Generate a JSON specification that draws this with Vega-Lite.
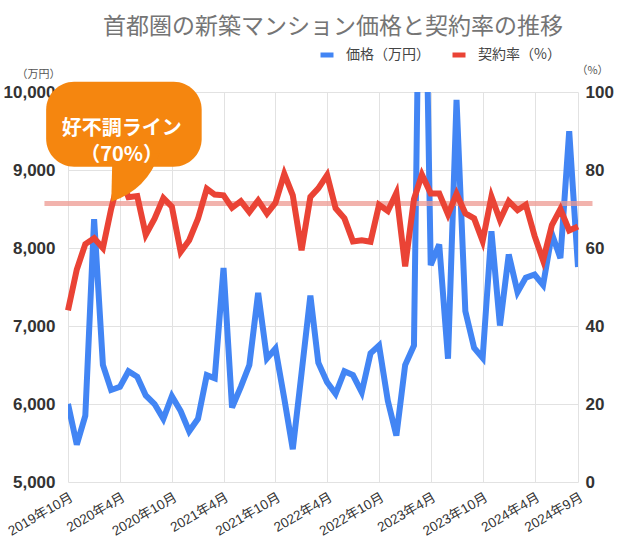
{
  "$schema": "https://vega.github.io/schema/vega-lite/v6.json",
  "width": 510,
  "height": 390,
  "autosize": {"type": "none"},
  "padding": {"left": 68, "top": 92, "right": 42, "bottom": 63},
  "background": "white",
  "config": {"view": {"stroke": null}, "font": "Liberation Sans, Noto Sans CJK JP"},
  "title": {
    "text": "首都圏の新築マンション価格と契約率の推移",
    "font": "Noto Sans CJK JP",
    "fontSize": 23,
    "fontWeight": "normal",
    "color": "#757575",
    "anchor": "middle",
    "dx": 10,
    "offset": 7
  },
  "data": {
    "values": [
      {"month": "2019-10-01", "price": 6000, "rate": 44},
      {"month": "2019-11-01", "price": 5480, "rate": 54.5},
      {"month": "2019-12-01", "price": 5850, "rate": 61},
      {"month": "2020-01-01", "price": 8370, "rate": 62.5},
      {"month": "2020-02-01", "price": 6500, "rate": 60},
      {"month": "2020-03-01", "price": 6180, "rate": 70},
      {"month": "2020-04-01", "price": 6220, "rate": 78.7},
      {"month": "2020-05-01", "price": 6420, "rate": 73},
      {"month": "2020-06-01", "price": 6350, "rate": 73.3},
      {"month": "2020-07-01", "price": 6110, "rate": 63.4},
      {"month": "2020-08-01", "price": 6000, "rate": 67.5},
      {"month": "2020-09-01", "price": 5810, "rate": 72.8},
      {"month": "2020-10-01", "price": 6100, "rate": 70.6},
      {"month": "2020-11-01", "price": 5910, "rate": 59},
      {"month": "2020-12-01", "price": 5650, "rate": 62},
      {"month": "2021-01-01", "price": 5810, "rate": 67.5},
      {"month": "2021-02-01", "price": 6370, "rate": 75.2},
      {"month": "2021-03-01", "price": 6330, "rate": 73.7},
      {"month": "2021-04-01", "price": 7745, "rate": 73.5},
      {"month": "2021-05-01", "price": 5955, "rate": 70.3},
      {"month": "2021-06-01", "price": 6220, "rate": 72},
      {"month": "2021-07-01", "price": 6500, "rate": 69.2},
      {"month": "2021-08-01", "price": 7425, "rate": 72.2},
      {"month": "2021-09-01", "price": 6583, "rate": 68.8},
      {"month": "2021-10-01", "price": 6710, "rate": 71.6},
      {"month": "2021-11-01", "price": 6070, "rate": 79},
      {"month": "2021-12-01", "price": 5420, "rate": 73.5},
      {"month": "2022-01-01", "price": 6400, "rate": 59.4},
      {"month": "2022-02-01", "price": 7390, "rate": 73.1},
      {"month": "2022-03-01", "price": 6530, "rate": 75.3},
      {"month": "2022-04-01", "price": 6280, "rate": 78.7},
      {"month": "2022-05-01", "price": 6130, "rate": 70.2},
      {"month": "2022-06-01", "price": 6420, "rate": 67.6},
      {"month": "2022-07-01", "price": 6370, "rate": 61.7},
      {"month": "2022-08-01", "price": 6150, "rate": 62},
      {"month": "2022-09-01", "price": 6650, "rate": 61.6},
      {"month": "2022-10-01", "price": 6750, "rate": 71.1},
      {"month": "2022-11-01", "price": 6040, "rate": 69.5},
      {"month": "2022-12-01", "price": 5595, "rate": 74.1},
      {"month": "2023-01-01", "price": 6500, "rate": 55.3},
      {"month": "2023-02-01", "price": 6750, "rate": 72.5},
      {"month": "2023-03-01", "price": 14360, "rate": 78.8},
      {"month": "2023-04-01", "price": 7780, "rate": 74},
      {"month": "2023-05-01", "price": 8045, "rate": 74},
      {"month": "2023-06-01", "price": 6580, "rate": 68.6},
      {"month": "2023-07-01", "price": 9900, "rate": 73.9},
      {"month": "2023-08-01", "price": 7190, "rate": 68.9},
      {"month": "2023-09-01", "price": 6720, "rate": 67.6},
      {"month": "2023-10-01", "price": 6590, "rate": 61.8},
      {"month": "2023-11-01", "price": 8215, "rate": 73.2},
      {"month": "2023-12-01", "price": 7006, "rate": 67.2},
      {"month": "2024-01-01", "price": 7917, "rate": 72},
      {"month": "2024-02-01", "price": 7434, "rate": 69.7},
      {"month": "2024-03-01", "price": 7620, "rate": 71.1},
      {"month": "2024-04-01", "price": 7660, "rate": 63.1},
      {"month": "2024-05-01", "price": 7525, "rate": 56.8},
      {"month": "2024-06-01", "price": 8180, "rate": 65.9},
      {"month": "2024-07-01", "price": 7870, "rate": 70},
      {"month": "2024-08-01", "price": 9496, "rate": 64.5},
      {"month": "2024-09-01", "price": 7755, "rate": 65.5}
    ]
  },
  "layer": [
    {
      "mark": {"type": "line", "strokeWidth": 6, "clip": true},
      "encoding": {
        "x": {
          "field": "month",
          "type": "temporal",
          "scale": {"type": "utc", "domain": [{"year": 2019, "month": 10, "date": 1, "utc": true}, {"year": 2024, "month": 9, "date": 1, "utc": true}]},
          "axis": {
            "values": [
              {"year": 2019, "month": 10, "date": 1, "utc": true},
              {"year": 2020, "month": 4, "date": 1, "utc": true},
              {"year": 2020, "month": 10, "date": 1, "utc": true},
              {"year": 2021, "month": 4, "date": 1, "utc": true},
              {"year": 2021, "month": 10, "date": 1, "utc": true},
              {"year": 2022, "month": 4, "date": 1, "utc": true},
              {"year": 2022, "month": 10, "date": 1, "utc": true},
              {"year": 2023, "month": 4, "date": 1, "utc": true},
              {"year": 2023, "month": 10, "date": 1, "utc": true},
              {"year": 2024, "month": 4, "date": 1, "utc": true},
              {"year": 2024, "month": 9, "date": 1, "utc": true}
            ],
            "labelExpr": "utcFormat(datum.value, '%Y年%-m月')",
            "labelAngle": -30,
            "labelAlign": "right",
            "labelBaseline": "top",
            "labelFontSize": 13.5,
            "labelColor": "#333",
            "labelPadding": 8,
            "labelOverlap": false,
            "labelBound": false,
            "labelFlush": false,
            "grid": true,
            "gridColor": "#e2e2e2",
            "domain": false,
            "ticks": false,
            "title": null
          }
        },
        "y": {
          "field": "price",
          "type": "quantitative",
          "scale": {"domain": [5000, 10000], "nice": false, "zero": false},
          "axis": {
            "values": [5000, 6000, 7000, 8000, 9000, 10000],
            "labelExpr": "format(datum.value, ',')",
            "labelFontSize": 17,
            "labelFontWeight": "bold",
            "labelColor": "#333",
            "labelPadding": 13,
            "grid": true,
            "gridColor": "#e2e2e2",
            "domain": false,
            "ticks": false,
            "title": "（万円）",
            "titleAngle": 0,
            "titleX": -30,
            "titleY": -18,
            "titleAlign": "center",
            "titleBaseline": "middle",
            "titleFont": "Noto Sans CJK JP",
            "titleFontSize": 11,
            "titleFontWeight": "normal",
            "titleColor": "#555"
          }
        },
        "color": {
          "datum": "価格（万円）",
          "scale": {"domain": ["価格（万円）", "契約率（%）"], "range": ["#4285f4", "#ea4335"]},
          "legend": {
            "orient": "none",
            "legendX": 250,
            "legendY": -46,
            "direction": "horizontal",
            "title": null,
            "symbolType": "stroke",
            "symbolStrokeWidth": 5,
            "symbolSize": 169,
            "labelFont": "Noto Sans CJK JP",
            "labelFontSize": 14,
            "labelColor": "#444",
            "labelOffset": 10,
            "columnPadding": 12,
            "padding": 0
          }
        }
      }
    },
    {
      "layer": [
        {
          "data": {"values": [{}]},
          "mark": {"type": "rule", "color": "#ee9a92", "strokeWidth": 5, "opacity": 0.75},
          "encoding": {
            "x": {"datum": {"year": 2019, "month": 7, "date": 10, "utc": true}, "type": "temporal"},
            "x2": {"datum": {"year": 2024, "month": 10, "date": 22, "utc": true}},
            "y": {"datum": 71.4, "type": "quantitative"}
          }
        },
        {
          "mark": {"type": "line", "strokeWidth": 6},
          "encoding": {
            "x": {"field": "month", "type": "temporal"},
            "y": {"field": "rate", "type": "quantitative"},
            "color": {"datum": "契約率（%）"}
          }
        }
      ],
      "encoding": {
        "y": {
          "type": "quantitative",
          "scale": {"domain": [0, 100], "nice": false},
          "axis": {
            "orient": "right",
            "values": [0, 20, 40, 60, 80, 100],
            "labelFontSize": 17,
            "labelFontWeight": "bold",
            "labelColor": "#333",
            "labelPadding": 7,
            "grid": false,
            "domain": false,
            "ticks": false,
            "title": "（%）",
            "titleAngle": 0,
            "titleX": 14,
            "titleY": -22,
            "titleAlign": "center",
            "titleBaseline": "middle",
            "titleFont": "Noto Sans CJK JP",
            "titleFontSize": 11,
            "titleFontWeight": "normal",
            "titleColor": "#555"
          }
        }
      }
    },
    {
      "data": {"values": [{}]},
      "layer": [
        {
          "mark": {"type": "rect", "cornerRadius": 28, "color": "#f5860f"},
          "encoding": {
            "x": {"datum": {"year": 2019, "month": 7, "date": 16, "utc": true}, "type": "temporal"},
            "x2": {"datum": {"year": 2021, "month": 1, "date": 14, "utc": true}},
            "y": {"datum": 10132, "type": "quantitative"},
            "y2": {"datum": 9042}
          }
        },
        {
          "mark": {"type": "point", "shape": "M -1 1 L -0.95 -1 L 1 -1 Q 0.5 0.5 -1 1 Z", "filled": true, "size": 2304, "color": "#f5860f", "opacity": 1, "strokeWidth": 0},
          "encoding": {
            "x": {"datum": {"year": 2020, "month": 5, "date": 25, "utc": true}, "type": "temporal"},
            "y": {"datum": 8900, "type": "quantitative"}
          }
        },
        {
          "mark": {"type": "text", "text": ["好不調ライン", "（70%）"], "font": "Noto Sans CJK JP", "fontSize": 20, "fontWeight": "bold", "color": "white", "lineHeight": 26, "baseline": "middle", "align": "center"},
          "encoding": {
            "x": {"datum": {"year": 2020, "month": 4, "date": 7, "utc": true}, "type": "temporal"},
            "y": {"datum": 9525, "type": "quantitative"}
          }
        }
      ],
      "encoding": {
        "y": {"type": "quantitative", "scale": {"domain": [5000, 10000], "nice": false, "zero": false}, "axis": null}
      }
    }
  ],
  "resolve": {"scale": {"y": "independent"}}
}
